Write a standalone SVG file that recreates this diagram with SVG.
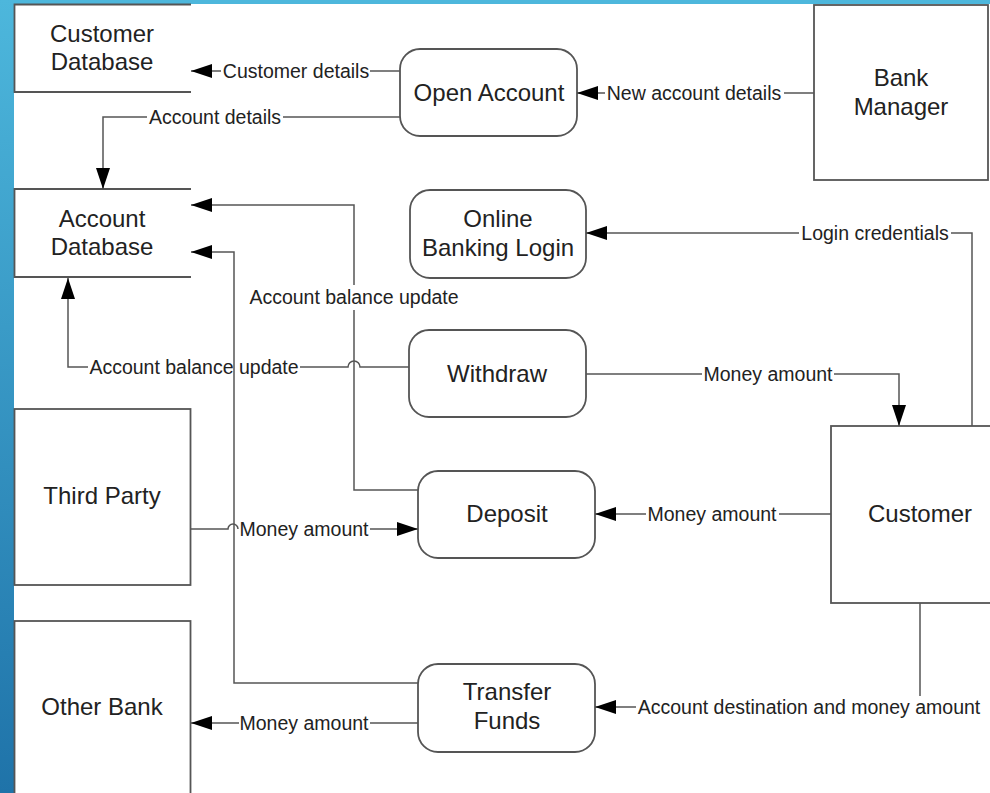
<svg xmlns="http://www.w3.org/2000/svg" width="990" height="793" viewBox="0 0 990 793">
<defs>
<linearGradient id="side" x1="0" y1="0" x2="0" y2="1">
<stop offset="0" stop-color="#4db7dc"/>
<stop offset="1" stop-color="#1f73a9"/>
</linearGradient>
<marker id="ah" markerUnits="userSpaceOnUse" markerWidth="22" markerHeight="14" refX="21" refY="7" orient="auto">
<path d="M0,0 L21,7 L0,14 z" fill="#000"/>
</marker>
<style>
.box{fill:#fff;stroke:#555;stroke-width:1.8}
.store{fill:none;stroke:#555;stroke-width:1.8}
.nt{font-family:"Liberation Sans",Arial,sans-serif;font-size:24px;fill:#222;text-anchor:middle}
.lb{font-family:"Liberation Sans",Arial,sans-serif;font-size:19.5px;fill:#222;text-anchor:middle}
.cn{fill:none;stroke:#555;stroke-width:1.5;marker-end:url(#ah)}
</style>
</defs>
<rect x="0" y="0" width="990" height="793" fill="#fff"/>
<rect x="0" y="0" width="990" height="4" fill="#4db7dc"/>
<rect x="0" y="0" width="14" height="793" fill="url(#side)"/>

<g id="customer-database">
<path class="store" d="M191,4.5 L14.5,4.5 L14.5,92 L191,92"/>
<text class="nt" x="102" y="42">Customer</text>
<text class="nt" x="102" y="70">Database</text>
</g>
<g id="account-database">
<path class="store" d="M191,189 L14.5,189 L14.5,277 L191,277"/>
<text class="nt" x="102" y="227">Account</text>
<text class="nt" x="102" y="255">Database</text>
</g>
<g id="open-account">
<rect class="box" x="400" y="49" width="177" height="87" rx="20"/>
<text class="nt" x="489" y="101">Open Account</text>
</g>
<g id="bank-manager">
<rect class="box" x="814" y="5" width="174" height="175"/>
<text class="nt" x="901" y="86">Bank</text>
<text class="nt" x="901" y="115">Manager</text>
</g>
<g id="online-banking-login">
<rect class="box" x="410" y="190" width="176" height="88" rx="20"/>
<text class="nt" x="498" y="227">Online</text>
<text class="nt" x="498" y="256">Banking Login</text>
</g>
<g id="withdraw">
<rect class="box" x="409" y="330" width="177" height="87" rx="20"/>
<text class="nt" x="497" y="382">Withdraw</text>
</g>
<g id="third-party">
<rect class="box" x="14.5" y="409" width="176" height="176"/>
<text class="nt" x="102" y="504">Third Party</text>
</g>
<g id="deposit">
<rect class="box" x="418" y="471" width="177" height="87" rx="20"/>
<text class="nt" x="507" y="522">Deposit</text>
</g>
<g id="customer">
<rect class="box" x="831" y="426" width="170" height="177"/>
<text class="nt" x="920" y="522">Customer</text>
</g>
<g id="other-bank">
<rect class="box" x="14.5" y="621" width="176" height="190"/>
<text class="nt" x="102" y="715">Other Bank</text>
</g>
<g id="transfer-funds">
<rect class="box" x="418" y="664" width="177" height="88" rx="20"/>
<text class="nt" x="507" y="700">Transfer</text>
<text class="nt" x="507" y="729">Funds</text>
</g>

<g id="connectors">
<path class="cn" d="M400,71 L370,71 M221,71 L191,71"/>
<text class="lb" x="296" y="78">Customer details</text>

<path class="cn" d="M400,117 L283,117 M147,117 L103,117 L103,189"/>
<text class="lb" x="215" y="124">Account details</text>

<path class="cn" d="M814,93 L784,93 M605,93 L577,93"/>
<text class="lb" x="694" y="100">New account details</text>

<path class="cn" d="M972,426 L972,233 L951,233 M799,233 L586,233"/>
<text class="lb" x="875" y="240">Login credentials</text>

<path class="cn" d="M409,367 L360,367 A6,6 0 0 0 348,367 L300,367 M88,367 L68,367 L68,278"/>
<text class="lb" x="194" y="374">Account balance update</text>

<path class="cn" d="M586,374 L702,374 M834,374 L899,374 L899,426"/>
<text class="lb" x="768" y="381">Money amount</text>

<path class="cn" d="M418,490 L354,490 L354,310 M354,285 L354,205 L191,205"/>
<text class="lb" x="354" y="304">Account balance update</text>

<path class="cn" d="M418,683 L234,683 L234,252 L191,252"/>

<path class="cn" d="M191,529 L228,529 A5,5 0 0 1 238,529 M370,529 L418,529"/>
<text class="lb" x="304" y="536">Money amount</text>

<path class="cn" d="M831,514 L779,514 M646,514 L595,514"/>
<text class="lb" x="712" y="521">Money amount</text>

<path class="cn" d="M418,723 L370,723 M239,723 L191,723"/>
<text class="lb" x="304" y="730">Money amount</text>

<path class="cn" d="M920,603 L920,696 M636,707 L595,707"/>
<text class="lb" x="809" y="714">Account destination and money amount</text>
</g>
</svg>
